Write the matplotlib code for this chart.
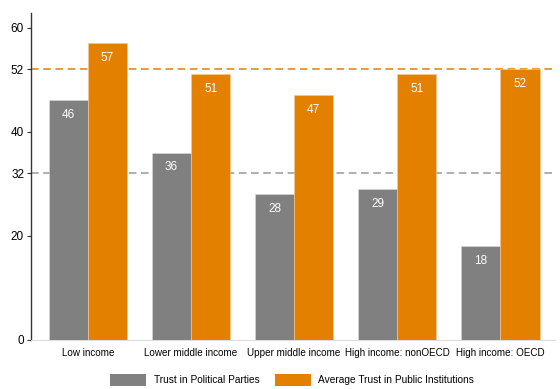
import matplotlib
matplotlib.use("Agg")
import matplotlib.pyplot as plt
import numpy as np
from matplotlib.patches import Patch

categories = ["Low income", "Lower middle income", "Upper middle income",
              "High income: nonOECD", "High income: OECD"]
parties = [46, 36, 28, 29, 18]
institutions = [57, 51, 47, 51, 52]
ref_institutions = 52
ref_parties = 32
yticks = [0, 20, 32, 40, 52, 60]

GRAY = "#808080"
ORANGE = "#E38000"

plt.rcParams["font.family"] = ["Liberation Sans", "DejaVu Sans"]

fig = plt.figure(figsize=(5.6, 3.89), dpi=100)
ax = fig.add_axes([31 / 560, 1 - 340 / 389, 524 / 560, 327 / 389])

x = np.arange(len(categories))
w = 0.38
b1 = ax.bar(x - w / 2, parties, w, color=GRAY, edgecolor="#d9d9d9", linewidth=0.4, zorder=3)
b2 = ax.bar(x + w / 2, institutions, w, color=ORANGE, edgecolor="#f5c99a", linewidth=0.4, zorder=3)

ax.axhline(ref_institutions, color=ORANGE, linestyle=(0, (5, 3)), linewidth=1.1, zorder=1)
ax.axhline(ref_parties, color="#999999", linestyle=(0, (5, 3)), linewidth=1.1, zorder=1)

for bars, vals in ((b1, parties), (b2, institutions)):
    for rect, v in zip(bars, vals):
        ax.text(rect.get_x() + rect.get_width() / 2, v - 2.8, f"{v}",
                ha="center", va="center", color="white", fontsize=8.5, zorder=4)

ax.set_xlim(-0.553, 4.53)
ax.set_ylim(0, 62.8)
ax.set_yticks(yticks)
ax.set_yticklabels([str(t) for t in yticks], fontsize=8.5)
ax.set_xticks(x)
ax.set_xticklabels(categories, fontsize=7.1)
ax.tick_params(axis="x", length=0, pad=6)
ax.tick_params(axis="y", length=3, width=0.8, color="#333333", pad=2)

for s in ("top", "right"):
    ax.spines[s].set_visible(False)
ax.spines["left"].set_color("#333333")
ax.spines["left"].set_linewidth(1.0)
ax.spines["bottom"].set_color("#dddddd")
ax.spines["bottom"].set_linewidth(0.8)

handles = [Patch(facecolor=GRAY, label="Trust in Political Parties"),
           Patch(facecolor=ORANGE, label="Average Trust in Public Institutions")]
fig.legend(handles=handles, loc="center", ncol=2, frameon=False,
           fontsize=7.3, bbox_to_anchor=(292 / 560, 9 / 389), handlelength=3.6,
           handleheight=1.5, columnspacing=1.5, handletextpad=0.7,
           borderpad=0, borderaxespad=0)

fig.savefig("out.png", dpi=100)
